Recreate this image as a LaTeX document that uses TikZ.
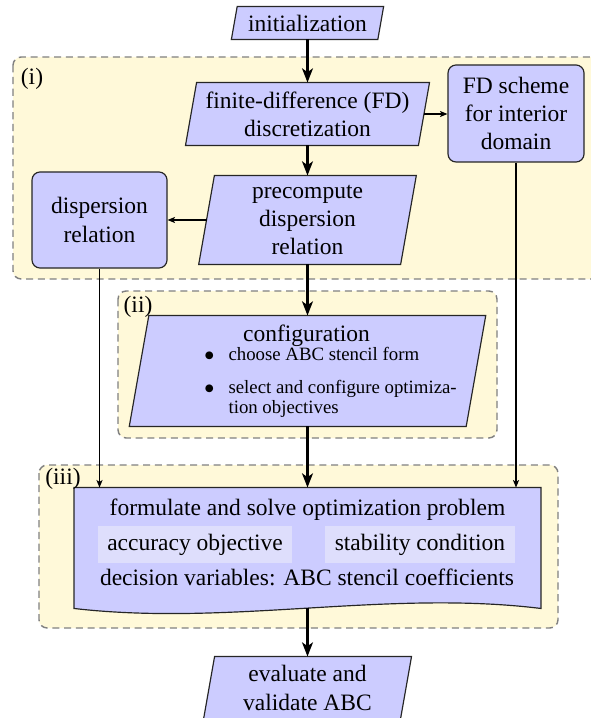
\documentclass[tikz,border=0pt]{standalone}
\usepackage{fontspec}
\setmainfont{Liberation Serif}
\usetikzlibrary{arrows.meta,calc}
\pgfdeclarelayer{groups}
\pgfdeclarelayer{shapes}
\pgfsetlayers{groups,shapes,main}

% one drawing unit
\def\pxu{0.4255pt}
\definecolor{groupfill}{RGB}{255,249,217}
\definecolor{boxfill}{RGB}{204,204,255}
\definecolor{subfill}{RGB}{222,222,252}

\begin{document}
\begin{tikzpicture}[x=\pxu,y=-\pxu,
  box/.style={rectangle, draw=none, inner sep=1pt, align=center},
  para/.style={box},
  rbox/.style={rectangle, rounded corners=3.4pt, draw=black!85, fill=boxfill,
    line width=0.5pt, align=center, inner sep=1pt},
  subbox/.style={rectangle, fill=subfill, inner sep=1pt},
  grp/.style={draw=black!50, fill=groupfill, dash pattern=on 3pt off 2pt,
    rounded corners=3.5pt, line width=0.6pt},
  shapeline/.style={draw=black!85, fill=boxfill, line width=0.5pt},
  flow/.style={line width=1.2pt, -{Stealth[length=6pt,width=4.6pt,inset=1.6pt]}},
  link/.style={line width=0.45pt, -{Stealth[length=3.2pt,width=2.6pt,inset=0.8pt]}},
  ]
\useasboundingbox (0,0) rectangle (591,718);

% main column
\node[para, minimum width=145.5*\pxu, minimum height=32*\pxu] (init) at (307.5,23) {initialization};
\node[para, minimum width=232*\pxu, minimum height=62*\pxu] (fd) at (307.5,114) {finite-difference (FD)\\discretization};
\node[rbox, minimum width=136*\pxu, minimum height=97*\pxu] (scheme) at (516,113.5) {FD scheme\\for interior\\domain};
\node[para, minimum width=201*\pxu, minimum height=88*\pxu] (pre) at (307.5,220) {precompute\\dispersion\\relation};
\node[rbox, minimum width=135*\pxu, minimum height=96*\pxu] (disp) at (99.5,220) {dispersion\\relation};

\node[para, minimum width=336*\pxu, minimum height=110*\pxu] (conf) at (307.5,371) {};
\node[box] (conftitle) at (306.5,335.5) {configuration};
\node[box, anchor=west, inner sep=0pt, font=\footnotesize] (conflist) at (204,383)
  {\renewcommand{\arraystretch}{0.9}%
   \begin{tabular}{@{}l@{\hspace{6pt}}l@{}}
   $\bullet$ & choose ABC stencil form\\[5.1pt]
   $\bullet$ & select and configure optimiza-\\
             & tion objectives
   \end{tabular}};

\node[box, minimum width=466*\pxu, minimum height=120*\pxu] (form) at (307.5,548) {};
\node[box] (formtitle) at (307.5,510) {formulate and solve optimization problem};
\node[subbox, minimum width=194*\pxu, minimum height=37*\pxu] (acc) at (195,544.5) {accuracy objective};
\node[subbox, minimum width=190*\pxu, minimum height=37*\pxu] (stab) at (420,544.5) {stability condition};
\node[box] (vars) at (307,577) {decision variables: ABC stencil coefficients};

\node[para, minimum width=196*\pxu, minimum height=62*\pxu] (eval) at (307.5,688) {evaluate and\\validate ABC};

% group labels
\node[box] (lab1) at (32,79) {(i)};
\node[box] (lab2) at (138,307) {(ii)};
\node[box] (lab3) at (63,479) {(iii)};

% dashed group frames
\begin{pgfonlayer}{groups}
\draw[grp] (13,57) rectangle (606,279);
\draw[grp] (118,291) rectangle (497,438);
\draw[grp] (39,465) rectangle (558,628);
\end{pgfonlayer}

% slanted step outlines and the wavy problem sheet
\begin{pgfonlayer}{shapes}
\foreach \nd in {init,fd,pre,conf,eval}{
  \path[shapeline] let \p1=(\nd.south west), \p2=(\nd.north east),
    \n1={0.1763*(\y2-\y1)/2} in
    (\x1-\n1,\y1) -- (\x2-\n1,\y1) -- (\x2+\n1,\y2) -- (\x1+\n1,\y2) -- cycle;
}
\path[shapeline] (form.north west) -- (form.north east) -- (form.south east)
  .. controls ($(form.south east)+(-155,-19)$) and ($(form.south west)+(156,18)$) ..
  (form.south west) -- cycle;
\end{pgfonlayer}

% connectors
\draw[flow] (init.south) -- (fd.north);
\draw[flow] (fd.south) -- (pre.north);
\draw[flow] (pre.south) -- (conf.north);
\draw[flow] (conf.south) -- (form.north);
\draw[flow] (form.south) -- (eval.north);
\draw[link] (fd.east) -- (fd.east -| scheme.west);
\draw[link] (pre.west) -- (disp.east);
\draw[link] (disp.south) -- (disp.south |- form.north);
\draw[link] (scheme.south) -- (scheme.south |- form.north);
\end{tikzpicture}
\end{document}
